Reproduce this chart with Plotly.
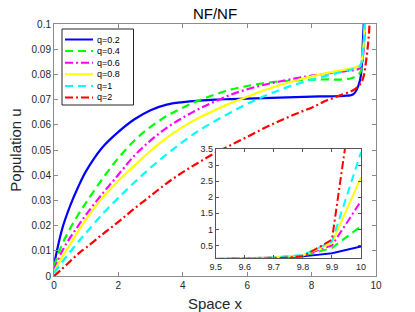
import plotly.graph_objects as go

# ---- main panel data ----
x_main = [0, 0.25, 0.5, 0.75, 1, 1.5, 2, 2.5, 3, 3.5, 4, 4.5, 5, 5.5, 6, 6.5, 7, 7.5, 8, 8.5, 9, 9.3, 9.5, 9.6, 9.7, 9.8, 9.9]
u_q02 = [0.0044, 0.0185, 0.0278, 0.0353, 0.0417, 0.0510, 0.0572, 0.0622, 0.0658, 0.0680, 0.0690, 0.0696, 0.0700, 0.0702, 0.0704, 0.0706, 0.0708, 0.0710, 0.0712, 0.0713, 0.0715, 0.0722, 0.0775, 0.095, 0.13, 0.2, 0.3]
u_q04 = [0.0040, 0.0125, 0.0188, 0.0243, 0.0292, 0.0385, 0.0468, 0.0538, 0.0592, 0.0635, 0.0668, 0.0697, 0.0720, 0.0740, 0.0754, 0.0765, 0.0772, 0.0776, 0.0779, 0.0780, 0.0780, 0.0788, 0.0805, 0.088, 0.12, 0.2, 0.3]
u_q06 = [0.0024, 0.0098, 0.0152, 0.0199, 0.0244, 0.0326, 0.0402, 0.0478, 0.0538, 0.0588, 0.0628, 0.0663, 0.0693, 0.0720, 0.0741, 0.0758, 0.0772, 0.0784, 0.0795, 0.0804, 0.0812, 0.0817, 0.0825, 0.088, 0.12, 0.2, 0.3]
u_q08 = [0.0016, 0.0075, 0.0125, 0.0178, 0.0226, 0.0310, 0.0378, 0.0438, 0.0497, 0.0548, 0.0592, 0.0628, 0.0658, 0.0687, 0.0711, 0.0736, 0.0757, 0.0776, 0.0792, 0.0806, 0.0818, 0.0826, 0.0835, 0.090, 0.12, 0.2, 0.3]
u_q1 = [0.0012, 0.0055, 0.0095, 0.0135, 0.0172, 0.0245, 0.0310, 0.0372, 0.0430, 0.0483, 0.0532, 0.0577, 0.0615, 0.0650, 0.0683, 0.0712, 0.0738, 0.0760, 0.0779, 0.0796, 0.0812, 0.0822, 0.0832, 0.090, 0.12, 0.2, 0.3]
u_q2 = [0.0, 0.0028, 0.0058, 0.0088, 0.0113, 0.0165, 0.0215, 0.0268, 0.0318, 0.0368, 0.0412, 0.0451, 0.0488, 0.0520, 0.0552, 0.0585, 0.0615, 0.0643, 0.0668, 0.0698, 0.0722, 0.0738, 0.0760, 0.0785, 0.086, 0.10, 0.15]

# ---- inset data (zoom near the right boundary) ----
x_inset = [9.5, 9.6, 9.7, 9.8, 9.9, 10]
v_q02 = [0.078, 0.09, 0.105, 0.16, 0.26, 0.47]
v_q04 = [0.08, 0.1, 0.12, 0.18, 0.42, 1.1]
v_q06 = [0.082, 0.1, 0.125, 0.19, 0.5, 1.88]
v_q08 = [0.083, 0.1, 0.125, 0.19, 0.58, 2.62]
v_q1 = [0.083, 0.1, 0.125, 0.2, 0.62, 3.4]
v_q2 = [0.077, 0.08, 0.1, 0.16, 0.68, 7.0]

labels = ["q=0.2", "q=0.4", "q=0.6", "q=0.8", "q=1", "q=2"]
colors = ["#0000ff", "#00ff00", "#ff00ff", "#ffff00", "#00ffff", "#ff0000"]
dashes = ["solid", "8px,5px", "8px,3px,2px,3px", "solid", "8px,5px", "8px,3px,2px,3px"]
main_series = [u_q02, u_q04, u_q06, u_q08, u_q1, u_q2]
inset_series = [v_q02, v_q04, v_q06, v_q08, v_q1, v_q2]

FONT = "Liberation Sans, Arial, sans-serif"

fig = go.Figure()
for lab, col, dsh, ys in zip(labels, colors, dashes, main_series):
    fig.add_trace(go.Scatter(x=x_main, y=ys, mode="lines", name=lab, showlegend=False,
                             line=dict(color=col, width=2.2, dash=dsh, shape="spline", smoothing=1.0),
                             xaxis="x", yaxis="y"))
for lab, col, dsh, ys in zip(labels, colors, dashes, inset_series):
    fig.add_trace(go.Scatter(x=x_inset, y=ys, mode="lines", name=lab, showlegend=False,
                             line=dict(color=col, width=2, dash=dsh),
                             xaxis="x2", yaxis="y2"))

# ---- legend box (drawn manually to match compact MATLAB legend) ----
W, H = 415, 312
L, R, T, B = 54, 39, 24, 36
pw, ph = W - L - R, H - T - B
def px(X):
    return (X - L) / pw
def py(Y):
    return (H - B - Y) / ph

shapes = [dict(type="rect", xref="paper", yref="paper", x0=px(62), x1=px(133.5), y0=py(105), y1=py(29),
               line=dict(color="#262626", width=1), fillcolor="white", layer="above")]
annotations = []
for i, (lab, col, dsh) in enumerate(zip(labels, colors, dashes)):
    yy = 39.5 + i * 11.6
    shapes.append(dict(type="line", xref="paper", yref="paper", x0=px(65), x1=px(93), y0=py(yy), y1=py(yy),
                       line=dict(color=col, width=2, dash=dsh), layer="above"))
    annotations.append(dict(text=lab, xref="paper", yref="paper", x=px(94.5), y=py(yy), xanchor="left",
                            yanchor="middle", showarrow=False, font=dict(family=FONT, size=9, color="#000000")))

axcol = "#8c8c8c"
tickfont = dict(family=FONT, size=10, color="#262626")
common = dict(showline=True, linecolor=axcol, linewidth=1, mirror="ticks", ticks="inside",
              ticklen=4, tickcolor=axcol, showgrid=False, zeroline=False, tickfont=tickfont,
              automargin=False)
inset_common = {**common, "tickfont": dict(family=FONT, size=9, color="#262626"),
                "linecolor": "#555555", "tickcolor": "#555555", "ticklen": 3}

fig.update_layout(
    width=W, height=H,
    margin=dict(l=L, r=R, t=T, b=B),
    paper_bgcolor="white", plot_bgcolor="white",
    title=dict(text="NF/NF", x=px(215), xref="paper", xanchor="center", y=1 - 14 / H, yanchor="middle",
               font=dict(family=FONT, size=15, color="#000000")),
    xaxis=dict(range=[0, 10], tickvals=[0, 2, 4, 6, 8, 10], domain=[0, 1],
               title=dict(text="Space x", standoff=9, font=dict(family=FONT, size=15, color="#262626")),
               **common),
    yaxis=dict(range=[0, 0.1], tickvals=[0, 0.01, 0.02, 0.03, 0.04, 0.05, 0.06, 0.07, 0.08, 0.09, 0.1],
               ticktext=["0", "0.01", "0.02", "0.03", "0.04", "0.05", "0.06", "0.07", "0.08", "0.09", "0.1"],
               domain=[0, 1],
               title=dict(text="Population u", standoff=6, font=dict(family=FONT, size=15, color="#262626")),
               **common),
    xaxis2=dict(range=[9.5, 10], tickvals=[9.5, 9.6, 9.7, 9.8, 9.9, 10],
                ticktext=["9.5", "9.6", "9.7", "9.8", "9.9", "10"],
                domain=[px(215.7), px(361)], anchor="y2", **inset_common),
    yaxis2=dict(range=[0.1, 3.5], tickvals=[0.5, 1, 1.5, 2, 2.5, 3, 3.5],
                ticktext=["0.5", "1", "1.5", "2", "2.5", "3", "3.5"],
                domain=[py(258.3), py(149)], anchor="x2", **inset_common),
    shapes=shapes,
    annotations=annotations,
    showlegend=False,
)

fig.write_html("out.html", config={"displayModeBar": False},
               post_script="document.body.style.margin='0px';document.body.style.overflow='hidden';")
